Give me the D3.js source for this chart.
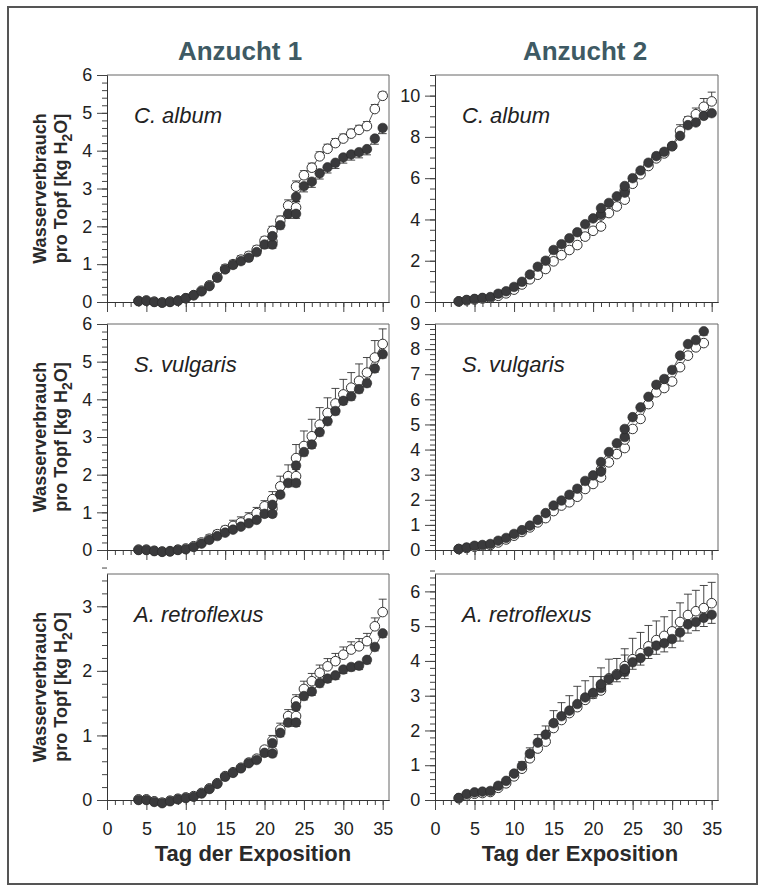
<!DOCTYPE html>
<html>
<head>
<meta charset="utf-8">
<script src="https://cdn.jsdelivr.net/npm/d3@7"></script>
<style>
  body { margin: 0; background: #fff; }
  svg { display: block; font-family: "Liberation Sans", Arial, sans-serif; }
</style>
</head>
<body>
<svg id="chart" width="766" height="891"></svg>
<script>
// days (21 and 24 were measured twice)
const daysA1 = [4,5,6,7,8,9,10,11,12,13,14,15,16,17,18,19,20,21,21,22,23,24,24,25,26,27,28,29,30,31,32,33,34,35];
const daysA2 = [3,4,5,6,7,8,9,10,11,12,13,14,15,16,17,18,19,20,21,21,22,23,24,24,25,26,27,28,29,30,31,32,33,34,35];
const daysA2sv = [3,4,5,6,7,8,9,10,11,12,13,14,15,16,17,18,19,20,21,21,22,23,24,24,25,26,27,28,29,30,31,32,33,34];

const xTicks = [0,5,10,15,20,25,30,35];

// Anzucht 1 - C. album
const ca1Filled = [0.02,0.03,0.0,-0.02,0.0,0.03,0.1,0.18,0.28,0.42,0.64,0.86,0.98,1.08,1.17,1.32,1.52,1.52,1.74,2.03,2.33,2.33,2.78,3.06,3.18,3.4,3.56,3.68,3.82,3.9,3.96,4.04,4.32,4.6];
const ca1Open   = [0.03,0.04,0.01,-0.01,0.01,0.04,0.1,0.18,0.3,0.44,0.66,0.88,1.0,1.12,1.22,1.38,1.62,1.6,1.88,2.15,2.55,2.5,3.05,3.35,3.55,3.85,4.05,4.2,4.32,4.45,4.55,4.65,5.1,5.45];
const ca1OpenErr   = [0.03,0.03,0.03,0.03,0.03,0.03,0.03,0.03,0.03,0.08,0.08,0.1,0.1,0.1,0.1,0.1,0.1,0.1,0.12,0.12,0.15,0.15,0.15,0.12,0.12,0.12,0.12,0.12,0.12,0.12,0.12,0.12,0.12,0.1];
const ca1FilledErr = [0.03,0.03,0.03,0.03,0.03,0.03,0.03,0.03,0.05,0.05,0.08,0.08,0.08,0.08,0.08,0.08,0.1,0.1,0.1,0.1,0.12,0.12,0.12,0.15,0.15,0.15,0.15,0.15,0.15,0.15,0.15,0.15,0.15,0.15];

// Anzucht 1 - S. vulgaris
const sv1Filled = [0.0,0.0,-0.03,-0.05,-0.04,0.0,0.02,0.08,0.17,0.27,0.37,0.46,0.54,0.62,0.71,0.8,0.96,0.96,1.2,1.47,1.78,1.78,2.24,2.6,2.8,3.13,3.42,3.69,3.96,4.08,4.27,4.43,4.82,5.2];
const sv1Open   = [0.01,0.01,-0.02,-0.04,-0.03,0.01,0.04,0.1,0.2,0.3,0.42,0.53,0.64,0.73,0.84,0.98,1.16,1.1,1.35,1.69,1.96,1.96,2.44,2.76,3.02,3.33,3.64,3.89,4.13,4.31,4.49,4.71,5.11,5.47];
const sv1OpenErr   = [0.03,0.03,0.03,0.03,0.03,0.03,0.03,0.03,0.1,0.1,0.1,0.1,0.15,0.15,0.15,0.15,0.15,0.2,0.2,0.27,0.3,0.4,0.36,0.4,0.45,0.45,0.4,0.4,0.4,0.4,0.45,0.4,0.45,0.4];
const sv1FilledErr = [0.03,0.03,0.03,0.03,0.03,0.03,0.03,0.03,0.05,0.05,0.05,0.05,0.05,0.05,0.05,0.05,0.08,0.08,0.08,0.08,0.1,0.1,0.1,0.1,0.1,0.1,0.1,0.1,0.1,0.1,0.1,0.1,0.1,0.1];

// Anzucht 1 - A. retroflexus
const ar1Filled = [0.0,0.0,-0.03,-0.05,-0.02,0.01,0.03,0.05,0.1,0.17,0.25,0.36,0.42,0.49,0.57,0.62,0.73,0.72,0.88,1.04,1.2,1.2,1.45,1.61,1.68,1.81,1.88,1.93,2.02,2.06,2.08,2.17,2.37,2.58];
const ar1Open   = [0.01,0.01,-0.02,-0.04,-0.01,0.02,0.04,0.06,0.11,0.18,0.26,0.37,0.43,0.5,0.58,0.64,0.78,0.75,0.92,1.09,1.3,1.3,1.53,1.72,1.84,1.97,2.07,2.15,2.25,2.33,2.38,2.46,2.69,2.91];
const ar1OpenErr   = [0.02,0.02,0.02,0.02,0.02,0.02,0.02,0.02,0.02,0.02,0.03,0.03,0.03,0.04,0.05,0.05,0.05,0.08,0.08,0.1,0.1,0.1,0.1,0.12,0.12,0.12,0.12,0.12,0.12,0.12,0.12,0.12,0.13,0.2];
const ar1FilledErr = [0.02,0.02,0.02,0.02,0.02,0.02,0.02,0.02,0.02,0.03,0.03,0.03,0.03,0.03,0.03,0.04,0.05,0.05,0.05,0.06,0.06,0.06,0.06,0.06,0.06,0.06,0.06,0.06,0.06,0.06,0.06,0.06,0.06,0.06];

// Anzucht 2 - C. album
const ca2Filled = [0.03,0.1,0.15,0.2,0.24,0.4,0.52,0.73,0.98,1.33,1.71,2.0,2.52,2.8,3.09,3.38,3.77,4.05,4.25,4.55,4.8,5.12,5.3,5.62,6.0,6.37,6.75,7.07,7.28,7.56,8.05,8.57,8.7,9.02,9.15];
const ca2Open   = [0.03,0.08,0.12,0.17,0.2,0.3,0.42,0.6,0.85,1.1,1.32,1.6,1.97,2.27,2.52,2.76,3.17,3.45,3.66,4.2,4.31,4.63,4.96,5.4,5.73,6.19,6.59,6.96,7.2,7.55,8.29,8.78,9.1,9.46,9.72];
const ca2OpenErr   = [0.05,0.05,0.05,0.05,0.05,0.05,0.05,0.05,0.08,0.08,0.1,0.1,0.1,0.1,0.1,0.1,0.1,0.1,0.1,0.1,0.1,0.1,0.1,0.12,0.12,0.12,0.15,0.25,0.15,0.15,0.3,0.2,0.3,0.4,0.45];
const ca2FilledErr = [0.05,0.05,0.05,0.05,0.05,0.05,0.05,0.05,0.05,0.08,0.08,0.08,0.08,0.08,0.08,0.08,0.1,0.1,0.1,0.1,0.1,0.1,0.1,0.1,0.1,0.1,0.1,0.1,0.1,0.1,0.12,0.12,0.12,0.12,0.12];

// Anzucht 2 - S. vulgaris
const sv2Filled = [0.04,0.1,0.17,0.2,0.24,0.37,0.48,0.64,0.79,0.97,1.2,1.47,1.77,1.97,2.2,2.44,2.75,2.97,3.12,3.5,3.9,4.25,4.5,4.82,5.29,5.68,6.1,6.58,6.81,7.17,7.74,8.2,8.36,8.71];
const sv2Open   = [0.04,0.08,0.13,0.17,0.2,0.3,0.42,0.57,0.72,0.9,1.1,1.27,1.55,1.77,1.9,2.12,2.43,2.63,2.89,3.2,3.49,3.82,4.06,4.4,4.82,5.22,5.81,6.28,6.45,6.71,7.28,7.74,8.07,8.24];
const sv2OpenErr   = [0.05,0.05,0.05,0.05,0.05,0.05,0.05,0.05,0.05,0.05,0.08,0.08,0.1,0.12,0.1,0.1,0.1,0.1,0.1,0.1,0.1,0.1,0.1,0.1,0.1,0.1,0.1,0.1,0.1,0.1,0.1,0.1,0.1,0.1];
const sv2FilledErr = [0.05,0.05,0.05,0.05,0.05,0.05,0.05,0.05,0.05,0.05,0.08,0.08,0.1,0.12,0.1,0.1,0.1,0.1,0.1,0.1,0.1,0.1,0.1,0.1,0.1,0.1,0.1,0.1,0.1,0.1,0.1,0.1,0.1,0.15];

// Anzucht 2 - A. retroflexus
const ar2Filled = [0.06,0.17,0.22,0.24,0.26,0.41,0.55,0.76,0.98,1.33,1.65,1.88,2.21,2.41,2.57,2.76,2.95,3.08,3.22,3.33,3.48,3.6,3.69,3.77,3.96,4.08,4.27,4.44,4.51,4.63,4.82,5.05,5.12,5.24,5.33];
const ar2Open   = [0.05,0.13,0.18,0.2,0.23,0.35,0.48,0.68,0.9,1.2,1.48,1.68,2.07,2.3,2.5,2.67,2.88,3.05,3.15,3.3,3.5,3.62,3.72,3.85,4.05,4.22,4.42,4.6,4.72,4.85,5.12,5.32,5.43,5.52,5.66];
const ar2OpenErr   = [0.03,0.03,0.03,0.03,0.03,0.03,0.03,0.1,0.2,0.3,0.4,0.45,0.5,0.5,0.5,0.6,0.55,0.5,0.4,0.5,0.55,0.45,0.45,0.5,0.6,0.6,0.6,0.55,0.55,0.6,0.55,0.6,0.6,0.65,0.6];
const ar2FilledErr = [0.03,0.03,0.03,0.03,0.03,0.03,0.03,0.03,0.05,0.1,0.1,0.1,0.1,0.1,0.1,0.1,0.15,0.15,0.15,0.15,0.15,0.2,0.2,0.2,0.2,0.2,0.2,0.25,0.25,0.25,0.25,0.25,0.25,0.25,0.25];

const titles = ['Anzucht 1', 'Anzucht 2'];
const species = ['C. album', 'S. vulgaris', 'A. retroflexus'];

// layout
const colX = [{x0: 107, x1: 389}, {x0: 435, x1: 718}];
const rowY = [{top: 75, bottom: 302}, {top: 324, bottom: 550}, {top: 574, bottom: 800}];

const panels = [
  {row: 0, col: 0, days: daysA1, filled: ca1Filled, open: ca1Open, fe: ca1FilledErr, oe: ca1OpenErr, ymax: 6, major: 1, minor: 0.2},
  {row: 0, col: 1, days: daysA2, filled: ca2Filled, open: ca2Open, fe: ca2FilledErr, oe: ca2OpenErr, ymax: 11, major: 2, minor: 0.5},
  {row: 1, col: 0, days: daysA1, filled: sv1Filled, open: sv1Open, fe: sv1FilledErr, oe: sv1OpenErr, ymax: 6, major: 1, minor: 0.2},
  {row: 1, col: 1, days: daysA2sv, filled: sv2Filled, open: sv2Open, fe: sv2FilledErr, oe: sv2OpenErr, ymax: 9, major: 1, minor: 0.2},
  {row: 2, col: 0, days: daysA1, filled: ar1Filled, open: ar1Open, fe: ar1FilledErr, oe: ar1OpenErr, ymax: 3.5, major: 1, minor: 0.2},
  {row: 2, col: 1, days: daysA2, filled: ar2Filled, open: ar2Open, fe: ar2FilledErr, oe: ar2OpenErr, ymax: 6.5, major: 1, minor: 0.2}
];

const svg = d3.select('#chart');

// outer border
svg.append('rect')
  .attr('x', 8).attr('y', 7).attr('width', 749).attr('height', 877)
  .attr('fill', 'none').attr('stroke', '#555').attr('stroke-width', 2);

// column titles
svg.selectAll('.title').data(titles).enter().append('text')
  .attr('class', 'title')
  .attr('x', (d, i) => i === 0 ? 240 : 585)
  .attr('y', 60)
  .attr('text-anchor', 'middle')
  .attr('font-size', 26).attr('font-weight', 'bold')
  .attr('fill', '#3e5a64')
  .text(d => d);

const R = 4.8, cap = 4;

function rangeStep(a, b, s) {
  const n = Math.round((b - a) / s);
  return d3.range(n + 1).map(i => +(a + i * s).toFixed(4));
}

panels.forEach(p => {
  const cx = colX[p.col], ry = rowY[p.row];
  const x = d3.scaleLinear().domain([0, 35.8]).range([cx.x0, cx.x1]);
  const y = d3.scaleLinear().domain([0, p.ymax]).range([ry.bottom, ry.top]);
  const g = svg.append('g');

  // frame top + right
  g.append('path')
    .attr('d', `M${cx.x0},${ry.top}H${cx.x1}V${ry.bottom}`)
    .attr('fill', 'none').attr('stroke', '#666').attr('stroke-width', 1);

  // x axis
  const xMinor = g.append('g').attr('transform', `translate(0,${ry.bottom})`)
    .call(d3.axisBottom(x).tickValues(d3.range(0, 36)).tickSize(5).tickSizeOuter(0).tickFormat(''));
  const xMajor = g.append('g').attr('transform', `translate(0,${ry.bottom})`)
    .call(d3.axisBottom(x).tickValues(xTicks).tickSize(10).tickSizeOuter(0)
      .tickFormat(p.row === 2 ? d3.format('d') : ''));
  xMajor.selectAll('text').attr('font-size', 18).attr('fill', '#222')
    .attr('font-family', '"Liberation Sans", Arial, sans-serif').attr('dy', '1.2em');

  // y axis
  const yMinor = g.append('g').attr('transform', `translate(${cx.x0},0)`)
    .call(d3.axisLeft(y).tickValues(rangeStep(0, p.ymax, p.minor)).tickSize(5).tickSizeOuter(0).tickFormat(''));
  const yMajor = g.append('g').attr('transform', `translate(${cx.x0},0)`)
    .call(d3.axisLeft(y).tickValues(rangeStep(0, Math.floor(p.ymax / p.major) * p.major, p.major))
      .tickSize(10).tickSizeOuter(0).tickFormat(d3.format('d')));
  yMajor.selectAll('text').attr('font-size', 18).attr('fill', '#222')
    .attr('font-family', '"Liberation Sans", Arial, sans-serif').attr('dx', '-0.1em');

  [xMinor, xMajor, yMinor, yMajor].forEach(a => {
    a.selectAll('line').attr('stroke', '#444');
    a.select('.domain').attr('stroke', '#333');
  });

  // species label
  g.append('text')
    .attr('x', cx.x0 + 27).attr('y', ry.top + 48)
    .attr('font-size', 22).attr('font-style', 'italic').attr('fill', '#222')
    .text(species[p.row]);

  const openPts = p.days.map((d, i) => ({d: d, v: p.open[i], e: p.oe[i]}));
  const filledPts = p.days.map((d, i) => ({d: d, v: p.filled[i], e: p.fe[i]}));
  const line = d3.line().x(o => x(o.d)).y(o => y(o.v));

  g.append('path').datum(openPts).attr('d', line)
    .attr('fill', 'none').attr('stroke', '#444').attr('stroke-width', 0.9);
  g.append('path').datum(filledPts).attr('d', line)
    .attr('fill', 'none').attr('stroke', '#444').attr('stroke-width', 0.9);

  // error bars: open upward, filled downward
  const eb = (pts, sign) => {
    const gg = g.append('g').attr('stroke', '#333').attr('stroke-width', 0.9);
    gg.selectAll('line.v').data(pts).enter().append('line')
      .attr('x1', o => x(o.d)).attr('x2', o => x(o.d))
      .attr('y1', o => y(o.v)).attr('y2', o => y(o.v + sign * o.e));
    gg.selectAll('line.c').data(pts).enter().append('line')
      .attr('x1', o => x(o.d) - cap).attr('x2', o => x(o.d) + cap)
      .attr('y1', o => y(o.v + sign * o.e)).attr('y2', o => y(o.v + sign * o.e));
  };
  eb(openPts, 1);
  eb(filledPts, -1);

  g.selectAll('circle.open').data(openPts).enter().append('circle')
    .attr('class', 'open')
    .attr('cx', o => x(o.d)).attr('cy', o => y(o.v)).attr('r', R)
    .attr('fill', '#fff').attr('stroke', '#333').attr('stroke-width', 1);
  g.selectAll('circle.filled').data(filledPts).enter().append('circle')
    .attr('class', 'filled')
    .attr('cx', o => x(o.d)).attr('cy', o => y(o.v)).attr('r', R)
    .attr('fill', '#3a3a3c').attr('stroke', '#2a2a2a').attr('stroke-width', 0.6);

  // y axis title
  if (p.col === 0) {
    const cy = (ry.top + ry.bottom) / 2;
    const t = g.append('text')
      .attr('transform', `translate(46,${cy}) rotate(-90)`)
      .attr('text-anchor', 'middle')
      .attr('font-size', 18).attr('font-weight', 'bold').attr('fill', '#2a2a2a');
    t.append('tspan').attr('x', 0).attr('y', 0).text('Wasserverbrauch');
    const t2 = g.append('text')
      .attr('transform', `translate(67,${cy}) rotate(-90)`)
      .attr('text-anchor', 'middle')
      .attr('font-size', 18).attr('font-weight', 'bold').attr('fill', '#2a2a2a');
    t2.append('tspan').text('pro Topf [kg H');
    t2.append('tspan').attr('font-size', 14).attr('dy', 5).text('2');
    t2.append('tspan').attr('dy', -5).text('O]');
  }

  // x axis title
  if (p.row === 2) {
    g.append('text')
      .attr('x', p.col === 0 ? 253 : 580).attr('y', 861)
      .attr('text-anchor', 'middle')
      .attr('font-size', 22).attr('font-weight', 'bold').attr('fill', '#2a2a2a')
      .text('Tag der Exposition');
  }
});
</script>
</body>
</html>
